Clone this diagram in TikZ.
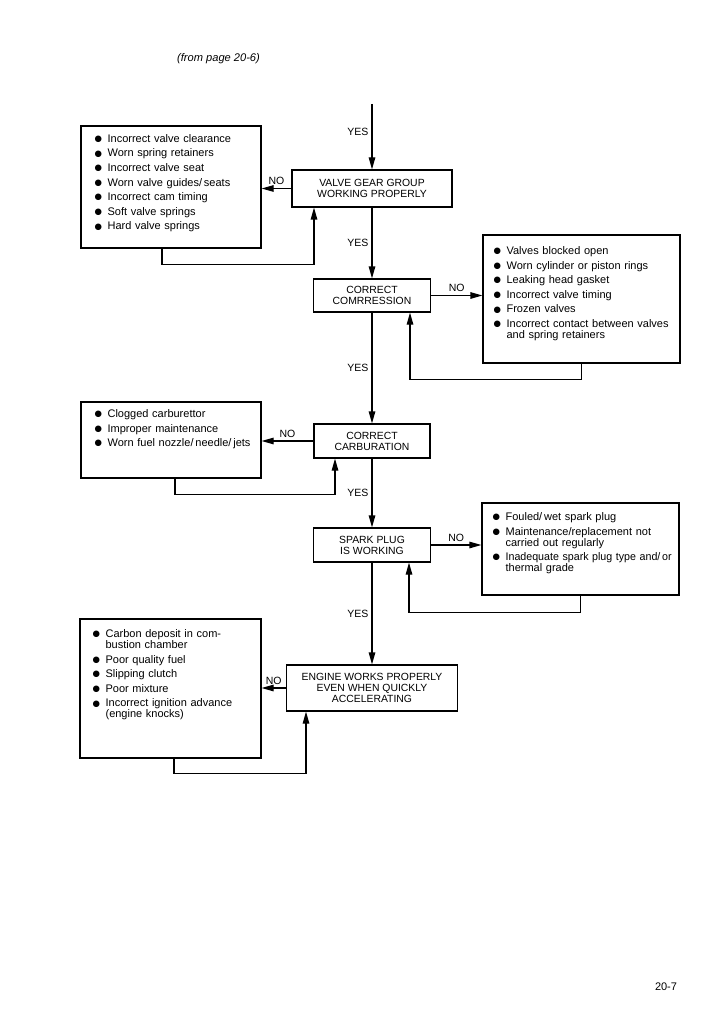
\documentclass[tikz,border=0pt]{standalone}
\usepackage{fontspec}
\setmainfont{Liberation Sans}
\newfontfamily\symfont{DejaVu Sans}
\usetikzlibrary{positioning,calc,arrows.meta}

% bullet item with hanging indent
\newcommand{\bul}{\raisebox{0.8pt}{\symfont\fontsize{8.5}{8.5}\selectfont ●}}
\newcommand{\itm}[1]{\hangindent=13pt\hangafter=1\noindent\makebox[13pt][l]{\bul}#1\par\vspace{3.6pt}}

\begin{document}
\begin{tikzpicture}[x=1pt,y=-1pt,
						check/.style={
							draw, line width=1.2pt, inner sep=0pt, align=center,
							font=\fontsize{10.4}{11}\selectfont
						},
						causebox/.style={draw, line width=1.2pt, inner sep=0pt},
						causetext/.style={
							anchor=base west, inner sep=0pt, align=left,
							font=\fontsize{11}{11}\selectfont
						},
						lbl/.style={font=\fontsize{10.5}{10.5}\selectfont, inner sep=3pt},
						% Mũi tên
						flow/.style={line width=1.2pt, -{Triangle[length=12pt,width=6.5pt]}}
						]
						\useasboundingbox (0,0) rectangle (724,1024);
						
						% page notes
						\node[anchor=west, inner sep=0pt, font=\fontsize{11.1}{13}\selectfont\itshape] (src) at (177,59) {(from page 20-6)};
						\node[inner sep=0pt, font=\fontsize{11}{13}\selectfont] (pg) at (666,987) {20-7};
						
						% checks
						\coordinate (start) at (372,104);
						\node[check, minimum width=160, minimum height=37] (b1) at (372,188.5) {VALVE GEAR GROUP\\WORKING PROPERLY};
						\node[check, minimum width=117, minimum height=33] (b2) at (372,295.5) {CORRECT\\COMRRESSION};
						\node[check, minimum width=116, minimum height=34] (b3) at (372,441) {CORRECT\\CARBURATION};
						\node[check, minimum width=117, minimum height=34] (b4) at (372,545) {SPARK PLUG\\IS WORKING};
						\node[check, minimum width=171, minimum height=46] (b5) at (372,688) {ENGINE WORKS PROPERLY\\EVEN WHEN QUICKLY\\ACCELERATING};
						
						% causes
						\node[causebox, minimum width=180, minimum height=122] (c1) at (171,187) {};
						\node[causetext, text width=165] (c1t) at ([shift={(14,17)}]c1.north west) {%
							\itm{Incorrect valve clearance}
							\itm{Worn spring retainers}
							\itm{Incorrect valve seat}
							\itm{Worn valve guides/\,seats}
							\itm{Incorrect cam timing}
							\itm{Soft valve springs}
							\itm{Hard valve springs}};
						
						\node[causebox, minimum width=197, minimum height=128] (c2) at (581.5,299) {};
						\node[causetext, text width=185] (c2t) at ([shift={(11,20)}]c2.north west) {%
							\itm{Valves blocked open}
							\itm{Worn cylinder or piston rings}
							\itm{Leaking head gasket}
							\itm{Incorrect valve timing}
							\itm{Frozen valves}
							\itm{Incorrect contact between valves\newline and spring retainers}};
						
						\node[causebox, minimum width=180, minimum height=76] (c3) at (171,440) {};
						\node[causetext, text width=165] (c3t) at ([shift={(14,16)}]c3.north west) {%
							\itm{Clogged carburettor}
							\itm{Improper maintenance}
							\itm{Worn fuel nozzle/\,needle/\,jets}};
						
						\node[causebox, minimum width=197, minimum height=92] (c4) at (580.5,549) {};
						\node[causetext, text width=185] (c4t) at ([shift={(11,18)}]c4.north west) {%
							\itm{Fouled/\,wet spark plug}
							\itm{\makebox[164pt][s]{Maintenance/replacement not}\newline carried out regularly}
							\itm{\scalebox{0.97}[1]{Inadequate spark plug type and/\,or}\newline thermal grade}};
						
						\node[causebox, minimum width=181, minimum height=139] (c5) at (170.5,688.5) {};
						\node[causetext, text width=165] (c5t) at ([shift={(13,19)}]c5.north west) {%
							\itm{\makebox[121pt][s]{Carbon deposit in com-}\newline bustion chamber}
							\itm{Poor quality fuel}
							\itm{Slipping clutch}
							\itm{Poor mixture}
							\itm{Incorrect ignition advance\newline (engine knocks)}};
						
						% YES path
						\draw[flow] (start) -- node[lbl, left, pos=0.42] {YES} (b1.north);
						\draw[flow] (b1.south) -- node[lbl, left] {YES} (b2.north);
						\draw[flow] (b2.south) -- node[lbl, left] {YES} (b3.north);
						\draw[flow] (b3.south) -- node[lbl, left] {YES} (b4.north);
						\draw[flow] (b4.south) -- node[lbl, left] {YES} (b5.north);
						
						% NO branches
						\draw[flow] (b1.west) -- node[lbl, above] {NO} (b1.west -| c1.east);
						\draw[flow] (b2.east) -- node[lbl, above] {NO} (b2.east -| c2.west);
						\draw[flow] (b3.west) -- node[lbl, above] {NO} (b3.west -| c3.east);
						\draw[flow] (b4.east) -- node[lbl, above] {NO} (b4.east -| c4.west);
						\draw[flow] (b5.west) -- node[lbl, above] {NO} (b5.west -| c5.east);
						
						% back to the check
						\draw[flow] ([xshift=-9pt]c1.south) -- ++(0,16) -| ([xshift=-58pt]b1.south);
						\draw[flow] (c2.south) -- ++(0,16) -| ([xshift=38pt]b2.south);
						\draw[flow] ([xshift=4pt]c3.south) -- ++(0,16) -| ([xshift=-37pt]b3.south);
						\draw[flow] (c4.south) -- ++(0,17) -| ([xshift=37pt]b4.south);
						\draw[flow] ([xshift=3.5pt]c5.south) -- ++(0,15) -| ([xshift=-66pt]b5.south);
						
					\end{tikzpicture}
\end{document}
